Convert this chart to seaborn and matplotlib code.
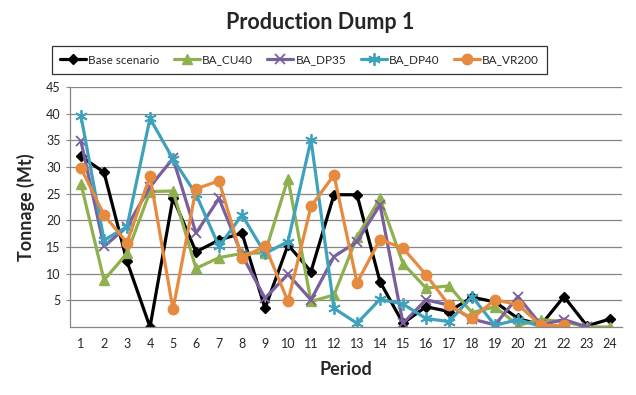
import numpy as np
import pandas as pd
import seaborn as sns
import matplotlib.pyplot as plt

periods = list(range(1, 25))

base_scenario = [32, 29, 12.3, 0, 24.2, 14.1, 16.3, 17.6, 3.5, 15.4, 10.4, 24.8,
                 24.8, 8.5, 0.7, 3.8, 2.9, 5.6, 4.7, 1.6, 0.4, 5.7, 0.2, 1.5]
ba_cu40 = [26.8, 8.8, 13.8, 25.4, 25.5, 11.0, 13.0, 13.8, 13.9, 27.8, 4.8, 6.0,
           16.9, 24.1, 11.9, 7.3, 7.7, 2.7, 3.8, 0.3, 1.4, 1.0, 0.0, 0.0]
ba_dp35 = [34.8, 15.1, 18.8, 26.3, 31.6, 17.6, 24.1, 13.5, 5.4, 9.9, 5.1, 13.2,
           16.0, 22.9, 0.7, 5.1, 4.1, 1.5, 0.4, 5.7, 0.4, 1.4, 0.0, np.nan]
ba_dp40 = [39.5, 16.3, 18.8, 39.1, 31.5, 24.9, 15.1, 21.0, 13.8, 16.0, 35.1, 3.5,
           0.7, 5.2, 4.3, 1.6, 1.0, 5.7, 0.3, 1.4, 0.1, np.nan, np.nan, np.nan]
ba_vr200 = [29.8, 21.0, 15.8, 28.3, 3.3, 25.9, 27.4, 12.9, 15.2, 4.8, 22.6, 28.5,
            8.3, 16.4, 14.8, 9.8, 4.1, 1.6, 5.1, 4.2, 0.3, 0.3, np.nan, np.nan]

series = {
    "Base scenario": (base_scenario, "black", "D", 5.5, 1),
    "BA_CU40": (ba_cu40, "#8EB04E", "^", 7, 1),
    "BA_DP35": (ba_dp35, "#7A5F9E", "x", 7, 1.3),
    "BA_DP40": (ba_dp40, "#3FA2BC", (6, 2, 0), 9, 1.3),
    "BA_VR200": (ba_vr200, "#E68A3F", "o", 7.5, 1),
}

sns.set_style("white")
plt.rcParams['font.family'] = ['Lato', 'DejaVu Sans']

fig = plt.figure(figsize=(6.36, 3.95), dpi=100)
ax = fig.add_axes([69.5 / 636, 1 - 327 / 395, 552 / 636, 240 / 395])

for name, (vals, col, mk, ms, mew) in series.items():
    df = pd.DataFrame({"Period": periods, "Tonnage": vals}).dropna()
    sns.lineplot(data=df, x="Period", y="Tonnage", ax=ax, color=col, lw=2.3,
                 marker=mk, markersize=ms, markeredgewidth=mew,
                 markeredgecolor=col, markerfacecolor=col, label=name)

ax.set_xlim(0.5, 24.5)
ax.set_ylim(0, 45)
ax.set_xticks(periods)
ax.set_xticks(np.arange(0.5, 25, 1), minor=True)
ax.set_yticks(range(5, 50, 5))
ax.tick_params(axis='x', which='major', length=0, labelsize=9, pad=8)
ax.tick_params(axis='x', which='minor', length=4, width=0.8, color='#868686', direction='out')
ax.tick_params(axis='y', length=3, width=0.8, color='#868686', labelsize=9, left=True)
ax.grid(axis='y', color='#868686', lw=0.9)
for s in ['top', 'right']:
    ax.spines[s].set_visible(False)
for s in ['left', 'bottom']:
    ax.spines[s].set_color('#868686')
    ax.spines[s].set_linewidth(0.9)
ax.set_axisbelow(True)

ax.set_xlabel("Period", fontsize=13, fontweight='bold', labelpad=8)
ax.set_ylabel("Tonnage (Mt)", fontsize=13, fontweight='bold', labelpad=8)

fig.suptitle("Production Dump 1", fontsize=15.5, fontweight='bold', x=0.503, y=0.97)

handles, labels = ax.get_legend_handles_labels()
ax.get_legend().remove()
leg = fig.legend(handles, labels, ncol=5, loc='center',
                 bbox_to_anchor=((52 + 547) / 2 / 636, 1 - 60 / 395),
                 fontsize=8.5, frameon=True, fancybox=False, edgecolor='black',
                 handlelength=2.2, columnspacing=1.2, handletextpad=0.2,
                 borderpad=0.7)
leg.get_frame().set_linewidth(0.9)

fig.savefig("out.png", dpi=100)
